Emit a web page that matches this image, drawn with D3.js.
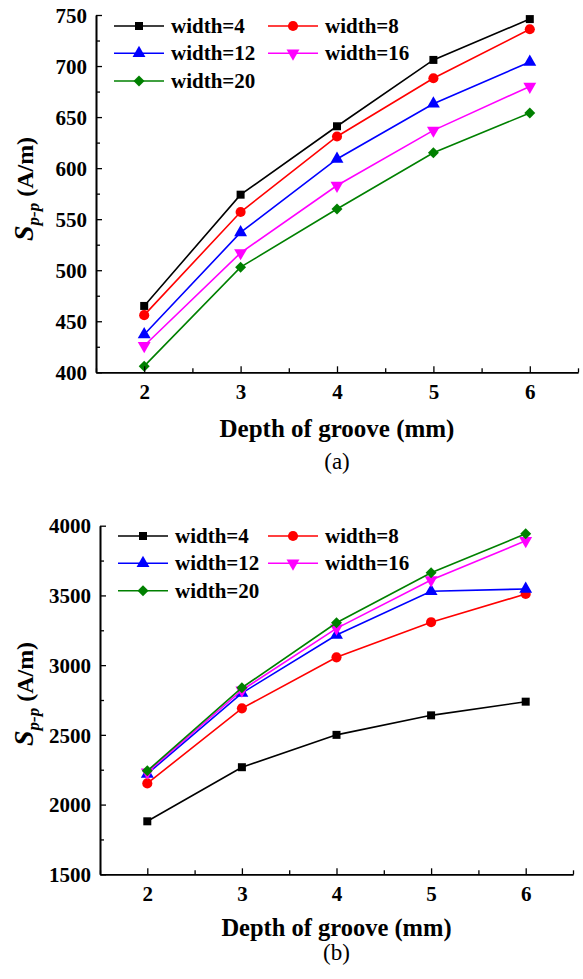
<!DOCTYPE html>
<html>
<head>
<meta charset="utf-8">
<script src="https://cdn.jsdelivr.net/npm/d3@7"></script>
<style>
html,body{margin:0;padding:0;background:#fff;}
svg{display:block;}
</style>
</head>
<body>
<svg id="chart" width="583" height="979"></svg>
<script>
// ---- data ----
const depths = [2, 3, 4, 5, 6];
const seriesNames = ["width=4", "width=8", "width=12", "width=16", "width=20"];
const seriesColors = ["#000000", "#ff0000", "#0000ff", "#ff00ff", "#008000"];
const seriesSymbols = ["square", "circle", "triangle", "triangleDown", "diamond"];

// panel (a)
const a_w4  = [465, 574, 641, 706, 746];
const a_w8  = [456, 557, 631, 688, 736];
const a_w12 = [437, 537, 609, 663, 704];
const a_w16 = [426, 517, 583, 637, 680];
const a_w20 = [406, 503, 560, 615, 654];
const aYTicks = [400, 450, 500, 550, 600, 650, 700, 750];

// panel (b)
const b_w4  = [1880, 2268, 2500, 2640, 2738];
const b_w8  = [2152, 2690, 3056, 3308, 3510];
const b_w12 = [2220, 2800, 3216, 3530, 3546];
const b_w16 = [2232, 2820, 3264, 3610, 3892];
const b_w20 = [2242, 2838, 3304, 3662, 3942];
const bYTicks = [1500, 2000, 2500, 3000, 3500, 4000];

const xTicks = [2, 3, 4, 5, 6];
const xTitle = "Depth of groove (mm)";
const FONT = "Liberation Serif";

const svg = d3.select("#chart");

function symbolPath(kind) {
  const map = {
    square: d3.symbol(d3.symbolSquare, 64),
    circle: d3.symbol(d3.symbolCircle, 80),
    triangle: d3.symbol(d3.symbolTriangle, 72),
    triangleDown: d3.symbol(d3.symbolTriangle, 72),
    diamond: d3.symbol(d3.symbolSquare, 60)
  };
  return map[kind]();
}
function symbolRot(kind) {
  if (kind === "triangleDown") return " rotate(180)";
  if (kind === "diamond") return " rotate(45)";
  return "";
}

function drawPanel(cfg) {
  const g = svg.append("g");
  const x = d3.scaleLinear().domain([1.5, 6.5]).range([cfg.left, cfg.right]);
  const y = d3.scaleLinear().domain(cfg.yDomain).range([cfg.bottom, cfg.top]);

  // series
  cfg.series.forEach((vals, i) => {
    const pts = depths.map((d, j) => [d, vals[j]]);
    g.append("path")
      .datum(pts)
      .attr("fill", "none")
      .attr("stroke", seriesColors[i])
      .attr("stroke-width", 1.6)
      .attr("d", d3.line().x(d => x(d[0])).y(d => y(d[1])));
    g.selectAll(null).data(pts).enter().append("path")
      .attr("d", symbolPath(seriesSymbols[i]))
      .attr("fill", seriesColors[i])
      .attr("transform", d => `translate(${x(d[0])},${y(d[1])})` + symbolRot(seriesSymbols[i]));
  });

  // axes
  const yAxis = d3.axisLeft(y).tickValues(cfg.yTicks).tickSize(-6).tickSizeOuter(0).tickPadding(9).tickFormat(d3.format("d"));
  const yMinor = d3.axisLeft(y).tickValues(cfg.yMinor).tickSize(-4).tickSizeOuter(0).tickFormat("");
  const xAxis = d3.axisBottom(x).tickValues(xTicks).tickSize(-6).tickSizeOuter(0).tickPadding(12).tickFormat(d3.format("d"));
  const xMinor = d3.axisBottom(x).tickValues([1.5, 2.5, 3.5, 4.5, 5.5, 6.5]).tickSize(-4).tickSizeOuter(0).tickFormat("");

  const ga = g.append("g").attr("transform", `translate(${cfg.left},0)`).call(yAxis);
  g.append("g").attr("transform", `translate(${cfg.left},0)`).call(yMinor);
  const gx = g.append("g").attr("transform", `translate(0,${cfg.bottom})`).call(xAxis);
  g.append("g").attr("transform", `translate(0,${cfg.bottom})`).call(xMinor);

  g.selectAll(".domain").attr("stroke", "#000").attr("stroke-width", 1.6);
  g.selectAll(".tick line").attr("stroke", "#000").attr("stroke-width", 1.3);
  ga.selectAll("text").attr("font-size", 21).attr("font-weight", "bold").attr("fill", "#000").attr("dy", "0.34em");
  gx.selectAll("text").attr("font-size", 21).attr("font-weight", "bold").attr("fill", "#000").attr("dy", "0.72em");

  // x title
  g.append("text")
    .attr("x", (cfg.left + cfg.right) / 2)
    .attr("y", cfg.xTitleY)
    .attr("text-anchor", "middle")
    .attr("font-size", cfg.xTitleSize)
    .attr("font-weight", "bold")
    .text(xTitle);

  // panel label
  g.append("text")
    .attr("x", (cfg.left + cfg.right) / 2)
    .attr("y", cfg.labelY)
    .attr("text-anchor", "middle")
    .attr("font-size", 23)
    .text(cfg.label);

  // y title
  const yt = g.append("text")
    .attr("transform", `translate(33,${cfg.yTitleCY}) rotate(-90)`)
    .attr("text-anchor", "middle")
    .attr("font-weight", "bold")
    .attr("font-size", 24);
  yt.append("tspan").attr("font-style", "italic").attr("font-size", 28).text("S");
  yt.append("tspan").attr("font-style", "italic").attr("font-size", 17).attr("dy", 6).text("p-p");
  yt.append("tspan").attr("dy", -6).text(" (A/m)");

  // legend
  const cols = [cfg.leg1, cfg.leg2];
  seriesNames.forEach((name, i) => {
    const col = cols[i % 2];
    const ry = cfg.legRows[Math.floor(i / 2)];
    const lg = g.append("g");
    lg.append("line").attr("x1", col - 25).attr("x2", col + 25).attr("y1", ry).attr("y2", ry)
      .attr("stroke", seriesColors[i]).attr("stroke-width", 1.6);
    lg.append("path").attr("d", symbolPath(seriesSymbols[i])).attr("fill", seriesColors[i])
      .attr("transform", `translate(${col},${ry})` + symbolRot(seriesSymbols[i]));
    lg.append("text").attr("x", col + 32).attr("y", ry + 7)
      .attr("font-size", 21).attr("font-weight", "bold").text(name);
  });
}

drawPanel({
  left: 96, right: 578, top: 15, bottom: 372.3,
  yDomain: [400, 750], yTicks: aYTicks,
  yMinor: [425, 475, 525, 575, 625, 675, 725],
  series: [a_w4, a_w8, a_w12, a_w16, a_w20],
  xTitleY: 437, xTitleSize: 25, labelY: 469, label: "(a)",
  yTitleCY: 189,
  leg1: 139, leg2: 293, legRows: [26, 53.3, 81]
});

drawPanel({
  left: 100, right: 573, top: 525.7, bottom: 874.3,
  yDomain: [1500, 4000], yTicks: bYTicks,
  yMinor: [1750, 2250, 2750, 3250, 3750],
  series: [b_w4, b_w8, b_w12, b_w16, b_w20],
  xTitleY: 936, xTitleSize: 24.5, labelY: 960, label: "(b)",
  yTitleCY: 694,
  leg1: 143, leg2: 293, legRows: [536, 563.3, 590.7]
});

// apply the serif family to every text directly
svg.selectAll("text").style("font-family", `"${FONT}"`);
svg.selectAll("g").attr("font-family", null);
</script>
</body>
</html>
